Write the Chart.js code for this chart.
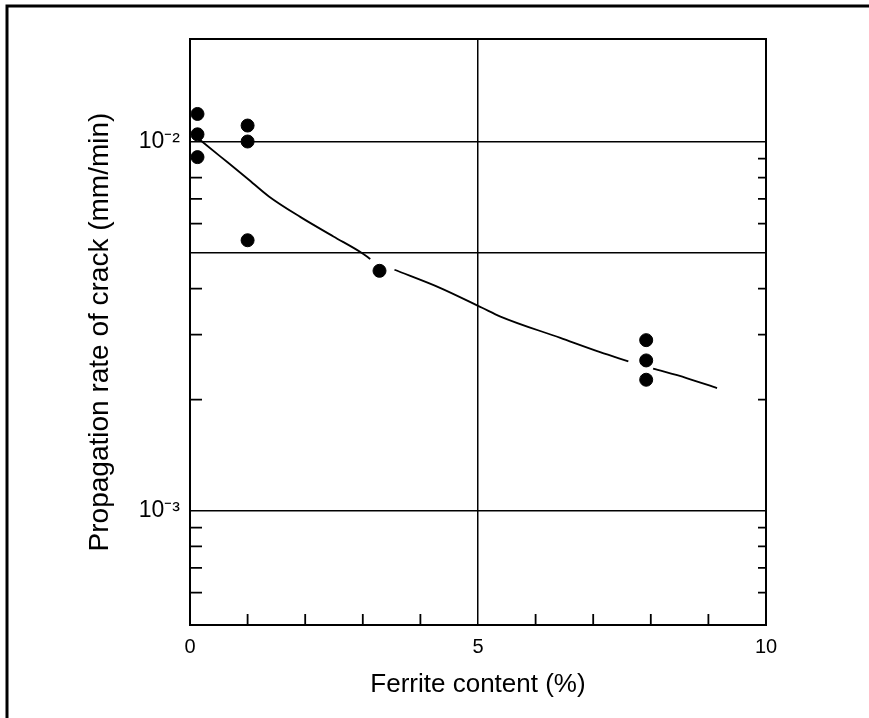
<!DOCTYPE html>
<html>
<head>
<meta charset="utf-8">
<script src="https://cdn.jsdelivr.net/npm/chart.js@4.4.1/dist/chart.umd.min.js"></script>
<style>
  body { margin: 0; background: #fff; }
</style>
</head>
<body>
<canvas id="chart" width="869" height="718"></canvas>
<script>
// measured points (ferrite %, crack rate mm/min)
var ferrite = [0.13, 0.13, 0.13, 1.0, 1.0, 1.0, 3.29, 7.92, 7.92, 7.92];
var rate = [0.0119, 0.01048, 0.00909, 0.01107, 0.01002, 0.00541, 0.00447, 0.0029, 0.002555, 0.002265];

// hand drawn trend curve, null = break in the line around a dot
var curveX = [0.15, 0.53, 0.99, 1.37, 1.92, 2.49, 2.99, 3.13, 3.3, 3.55, 4.34, 5.07, 5.39, 6.43, 7.12, 7.61, 7.9, 8.04, 8.62, 9.15];
var curveY = [0.01019, 0.00912, 0.00797, 0.00711, 0.00625, 0.00554, 0.00499, 0.00481, null, 0.0045, 0.00402, 0.00355, 0.00336, 0.00294, 0.00269, 0.00254, null, 0.002427, 0.002289, 0.00215];

// axis ticks
var xTicks = [0, 5, 10];
var xMinor = [1, 2, 3, 4, 6, 7, 8, 9];
var yGrid = [0.01, 0.005, 0.001];
var yTickValues = [0.01, 0.001];
var yTickLabels = ['10⁻²', '10⁻³'];
var yMinor = [0.009, 0.008, 0.007, 0.006, 0.004, 0.003, 0.002, 0.0009, 0.0008, 0.0007, 0.0006];

var points = [];
for (var i = 0; i < ferrite.length; i++) points.push({x: ferrite[i], y: rate[i]});
var curve = [];
for (var j = 0; j < curveX.length; j++) curve.push({x: curveX[j], y: curveY[j]});

var framePlugin = {
  id: 'frame',
  afterDraw: function(chart) {
    var ctx = chart.ctx;
    var a = chart.chartArea;
    var xs = chart.scales.x, ys = chart.scales.y;
    ctx.save();
    ctx.strokeStyle = '#000';
    ctx.lineWidth = 2;
    ctx.strokeRect(a.left, a.top, a.right - a.left, a.bottom - a.top);
    // inward minor ticks
    ctx.lineWidth = 1.8;
    ctx.beginPath();
    yMinor.forEach(function(v) {
      var py = ys.getPixelForValue(v);
      ctx.moveTo(a.left, py); ctx.lineTo(a.left + 12, py);
      ctx.moveTo(a.right, py); ctx.lineTo(a.right - 8, py);
    });
    xMinor.forEach(function(v) {
      var px = xs.getPixelForValue(v);
      ctx.moveTo(px, a.bottom); ctx.lineTo(px, a.bottom - 11);
    });
    ctx.stroke();
    // page frame, top and left
    ctx.lineWidth = 3;
    ctx.beginPath();
    ctx.moveTo(7, 718); ctx.lineTo(7, 6); ctx.lineTo(869, 6);
    ctx.stroke();
    ctx.restore();
  }
};

new Chart(document.getElementById('chart').getContext('2d'), {
  type: 'scatter',
  data: {
    datasets: [{
      data: points,
      pointRadius: 6.5,
      pointBackgroundColor: '#000',
      pointBorderColor: '#000',
      showLine: false
    }, {
      data: curve,
      showLine: true,
      pointRadius: 0,
      borderColor: '#000',
      borderWidth: 1.8,
      cubicInterpolationMode: 'monotone',
      spanGaps: false
    }]
  },
  options: {
    responsive: false,
    animation: false,
    devicePixelRatio: 1,
    layout: { padding: { top: 39, right: 103, bottom: 0, left: 0 } },
    plugins: { legend: { display: false }, tooltip: { enabled: false } },
    scales: {
      x: {
        type: 'linear',
        min: 0,
        max: 10,
        afterBuildTicks: function(s) { s.ticks = xTicks.map(function(v) { return {value: v}; }); },
        afterFit: function(s) { s.height = 93; },
        ticks: {
          autoSkip: false,
          maxRotation: 0,
          padding: 10,
          color: '#000',
          font: { size: 20, family: "'Liberation Sans Narrow', 'Liberation Sans', Arial" },
          callback: function(v) { return v; }
        },
        grid: {
          drawTicks: false,
          lineWidth: 1.5,
          color: function(c) { return c.tick && c.tick.value === 5 ? '#000' : 'rgba(0,0,0,0)'; }
        },
        border: { color: '#000', width: 2 },
        title: {
          display: true,
          text: 'Ferrite content (%)',
          color: '#000',
          font: { size: 26, family: "'Liberation Sans', Arial" },
          padding: { top: 0, bottom: 18 }
        }
      },
      y: {
        type: 'logarithmic',
        min: 0.00049,
        max: 0.019,
        afterBuildTicks: function(s) { s.ticks = yGrid.map(function(v) { return {value: v}; }); },
        afterFit: function(s) { s.width = 190; },
        ticks: {
          autoSkip: false,
          padding: 10,
          color: '#000',
          font: { size: 23, family: "'Liberation Sans', Arial" },
          callback: function(v) {
            var k = yTickValues.indexOf(v);
            return k >= 0 ? yTickLabels[k] : '';
          }
        },
        grid: { drawTicks: false, lineWidth: 1.5, color: '#000' },
        border: { color: '#000', width: 2 },
        title: {
          display: true,
          text: 'Propagation rate of crack (mm/min)',
          color: '#000',
          font: { size: 28, family: "'Liberation Sans', Arial" },
          padding: { top: 83, bottom: 0 }
        }
      }
    }
  },
  plugins: [framePlugin]
});
</script>
</body>
</html>
